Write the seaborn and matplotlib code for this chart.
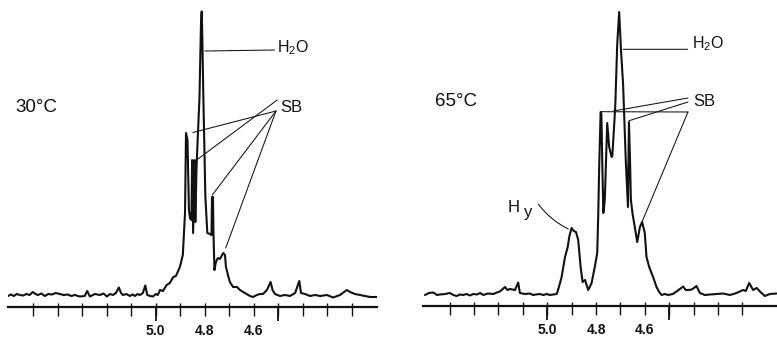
import numpy as np
import pandas as pd
import matplotlib
matplotlib.use('Agg')
import matplotlib.pyplot as plt
import seaborn as sns

# 30 C spectrum (ppm, intensity in arbitrary units)
ppm_30 = [5.602, 5.590, 5.578, 5.566, 5.554, 5.540, 5.527, 5.514, 5.501, 5.490,
          5.480, 5.466, 5.452, 5.438, 5.423, 5.407, 5.391, 5.375, 5.358, 5.344,
          5.329, 5.310, 5.289, 5.279, 5.268, 5.248, 5.227, 5.212, 5.199, 5.186,
          5.174, 5.162, 5.150, 5.141, 5.133, 5.119, 5.105, 5.094, 5.084, 5.074,
          5.064, 5.052, 5.042, 5.034, 5.022, 5.011, 4.999, 4.991, 4.982, 4.970,
          4.955, 4.942, 4.928, 4.917, 4.901, 4.889, 4.880, 4.876, 4.870, 4.864,
          4.860, 4.854, 4.851, 4.847, 4.841, 4.838, 4.833, 4.821, 4.815, 4.812,
          4.810, 4.805, 4.797, 4.789, 4.778, 4.772, 4.770, 4.766, 4.764, 4.760,
          4.754, 4.746, 4.738, 4.724, 4.717, 4.713, 4.705, 4.697, 4.684, 4.668,
          4.656, 4.636, 4.615, 4.603, 4.587, 4.574, 4.562, 4.546, 4.531, 4.523,
          4.513, 4.493, 4.472, 4.452, 4.431, 4.414, 4.407, 4.391, 4.370, 4.350,
          4.329, 4.301, 4.276, 4.248, 4.220, 4.207, 4.187, 4.166, 4.146, 4.125,
          4.098]
int_30 = [11, 12.5, 11, 13, 12, 11.5, 13, 12, 15, 13,
          12, 13.5, 11, 13, 12.5, 14, 13, 12, 12.5, 11,
          12, 10.5, 11, 16, 10.5, 13, 12, 13.5, 10.5, 13,
          12, 14, 19.5, 14, 12, 13, 11, 12.5, 11, 13,
          12, 14, 21.5, 12, 11, 10.5, 13, 12, 17, 16,
          22, 24, 30, 31, 40, 52, 94, 174, 167, 97,
          89, 87, 147, 74, 147, 85, 140, 210, 282, 295.5,
          277, 207, 110, 74, 73, 72, 110, 110, 74, 37,
          45, 49, 48, 54, 52, 40, 32, 25, 20, 20,
          17, 14, 11, 10, 12, 13, 13, 17, 25, 17,
          13, 11, 12, 11, 14, 26, 14, 13, 11, 12,
          11, 12, 9.5, 12, 17, 15, 13, 12, 11, 10,
          10]

# 65 C spectrum
ppm_65 = [5.501, 5.485, 5.467, 5.452, 5.440, 5.419, 5.399, 5.385, 5.371, 5.358,
          5.345, 5.331, 5.317, 5.303, 5.288, 5.275, 5.262, 5.243, 5.221, 5.206,
          5.194, 5.173, 5.163, 5.153, 5.132, 5.119, 5.112, 5.091, 5.071, 5.058,
          5.046, 5.030, 5.016, 5.002, 4.989, 4.975, 4.961, 4.952, 4.941, 4.927,
          4.916, 4.909, 4.900, 4.891, 4.882, 4.873, 4.863, 4.855, 4.845, 4.832,
          4.818, 4.805, 4.795, 4.791, 4.787, 4.781, 4.778, 4.774, 4.770, 4.764,
          4.754, 4.746, 4.736, 4.733, 4.721, 4.713, 4.705, 4.698, 4.689, 4.678,
          4.669, 4.665, 4.661, 4.657, 4.650, 4.641, 4.631, 4.620, 4.611, 4.600,
          4.593, 4.582, 4.566, 4.552, 4.541, 4.531, 4.518, 4.504, 4.485, 4.470,
          4.456, 4.443, 4.432, 4.422, 4.407, 4.388, 4.374, 4.354, 4.333, 4.305,
          4.279, 4.251, 4.224, 4.197, 4.186, 4.172, 4.156, 4.141, 4.128, 4.108,
          4.087, 4.060]
int_65 = [11, 13, 13.5, 11, 11.5, 12, 13, 11, 10, 11.5,
          11, 12, 10.5, 12, 11.5, 13, 11, 12.5, 12, 13.5,
          14.5, 19, 16, 17, 16, 23.5, 13, 12, 12.5, 11,
          11.5, 12, 11, 12, 11, 11.5, 12, 19, 29, 49,
          59, 70, 78, 75, 74, 66, 39, 24, 26, 16,
          23, 39, 53, 89, 139, 194, 192, 140, 93, 106,
          183, 159, 149, 150, 200, 262, 294, 258, 222, 146,
          99, 184, 150, 106, 92, 79, 64, 79, 84, 73,
          49, 39, 29, 19, 14, 11, 12, 11, 12, 14.5,
          17, 19.5, 16, 16, 16.5, 20, 13, 11, 11.5, 12,
          12.5, 11, 13, 16, 15, 23, 16, 18, 14.5, 10,
          12, 12.5]

ticks_30 = [5.5, 5.4, 5.3, 5.2, 5.1, 5.0, 4.9, 4.8, 4.7, 4.6, 4.5, 4.4, 4.3, 4.2]
ticks_65 = [5.4, 5.3, 5.2, 5.1, 5.0, 4.9, 4.8, 4.7, 4.6, 4.5, 4.4, 4.3, 4.2]
tick_text = {5.0: '5.0', 4.8: '4.8', 4.6: '4.6'}
long_ticks = [5.0, 4.5]

sns.set_style('white')
plt.rcParams['font.family'] = ['Liberation Sans', 'DejaVu Sans']
plt.rcParams['mathtext.fontset'] = 'custom'
plt.rcParams['mathtext.rm'] = 'Liberation Sans'

ink = '#111111'


def draw_panel(ax, ppm, inten, xlim, ymax, ticks):
    sns.lineplot(x=ppm, y=inten, ax=ax, sort=False, estimator=None, color=ink, lw=1.5)
    ax.set_xlim(*xlim)
    ax.set_ylim(0, ymax)
    ax.set_xlabel('')
    ax.set_ylabel('')
    ax.set_yticks([])
    for s in ['top', 'left', 'right']:
        ax.spines[s].set_visible(False)
    ax.spines['bottom'].set_linewidth(1.6)
    ax.spines['bottom'].set_color(ink)
    ax.set_facecolor('none')

    ax.set_xticks(ticks)
    ax.set_xticklabels([tick_text.get(round(t, 1), '') for t in ticks],
                       fontweight='bold', fontsize=10)
    ax.set_xticks(ticks, minor=True)
    ax.xaxis.remove_overlapping_locs = False
    ax.tick_params(axis='x', which='major', bottom=True, direction='out', length=6.5,
                   width=1.0, pad=6, color=ink, labelcolor=ink)
    ax.tick_params(axis='x', which='minor', bottom=True, direction='in', length=3,
                   width=1.0, color=ink)

    sec = ax.secondary_xaxis('bottom')
    sec.set_xticks(long_ticks, labels=['', ''])
    sec.tick_params(axis='x', bottom=True, direction='out', length=10, width=1.3, color=ink)
    sec.spines['bottom'].set_visible(False)


def leader(ax, start, end, rad=0.0):
    ax.annotate('', xy=end, xytext=start,
                arrowprops=dict(arrowstyle='-', lw=0.75, color=ink, shrinkA=0, shrinkB=0,
                                connectionstyle=f'arc3,rad={rad}'))


fig = plt.figure(figsize=(7.77, 3.37), dpi=100)
ax1 = fig.add_axes([8 / 777, 30 / 337, 369 / 777, 307 / 337])
ax2 = fig.add_axes([423.3 / 777, 31 / 337, 353.7 / 777, 306 / 337])

draw_panel(ax1, ppm_30, int_30, (5.602, 4.097), 307, ticks_30)
draw_panel(ax2, ppm_65, int_65, (5.508, 4.058), 306, ticks_65)

# 30 C labels
ax1.text(0.019, 0.651, '30°C', transform=ax1.transAxes, fontsize=13.5, ha='left', va='center', color=ink)
ax1.text(0.729, 0.845, r'H$_\mathregular{2}$O', transform=ax1.transAxes, fontsize=11.5, ha='left', va='center', color=ink)
ax1.text(0.737, 0.651, 'SB', transform=ax1.transAxes, fontsize=12, ha='left', va='center', color=ink)
leader(ax1, (4.799, 256), (4.515, 257))
leader(ax1, (4.509, 196), (4.848, 174.5))
leader(ax1, (4.504, 207), (4.833, 147))
leader(ax1, (4.509, 196), (4.769, 112))
leader(ax1, (4.509, 196), (4.714, 59))

# 65 C labels
ax2.text(0.033, 0.668, '65°C', transform=ax2.transAxes, fontsize=13.5, ha='left', va='center', color=ink)
ax2.text(0.759, 0.857, r'H$_\mathregular{2}$O', transform=ax2.transAxes, fontsize=11.5, ha='left', va='center', color=ink)
ax2.text(0.762, 0.668, 'SB', transform=ax2.transAxes, fontsize=12, ha='left', va='center', color=ink)
ax2.text(0.239, 0.323, 'H', transform=ax2.transAxes, fontsize=12, ha='left', va='center', color=ink)
ax2.text(0.284, 0.305, 'y', transform=ax2.transAxes, fontsize=12, ha='left', va='center', color=ink)
leader(ax2, (4.689, 256.7), (4.424, 256.7))
leader(ax2, (4.423, 194), (4.781, 194.3))
leader(ax2, (4.423, 208), (4.729, 195))
leader(ax2, (4.423, 204), (4.664, 185.3))
leader(ax2, (4.423, 194), (4.611, 84.3))
leader(ax2, (5.037, 102), (4.914, 77), rad=0.12)

fig.savefig('out.png', dpi=100)
